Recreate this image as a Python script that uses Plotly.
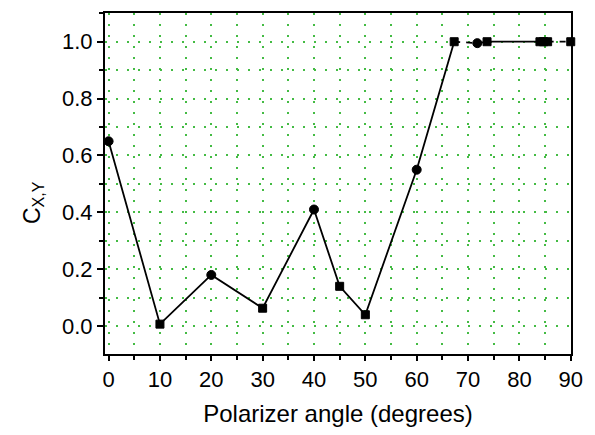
import plotly.graph_objects as go

# Data
angle = [0, 10, 20, 30, 40, 45, 50, 60, 67.3, 71.8, 73.7, 84, 84.7, 85.5, 90]
cxy = [0.65, 0.007, 0.18, 0.063, 0.41, 0.14, 0.04, 0.55, 1.0, 0.995, 1.0, 1.0, 1.0, 1.0, 1.0]
symbols = ["circle", "square", "circle", "square", "circle", "square", "square",
           "circle", "square", "circle", "square", "square", "square", "square", "square"]
# line segments: (start index, end index, dash style)
segments = [(0, 8, "solid"), (8, 10, "6px,6px"), (10, 13, "solid"), (13, 14, "6px,6px")]

x_ticks = list(range(0, 91, 10))
y_ticks = [0.0, 0.2, 0.4, 0.6, 0.8, 1.0]

fig = go.Figure()
for s, e, d in segments:
    fig.add_trace(go.Scatter(
        x=angle[s:e + 1], y=cxy[s:e + 1], mode="lines",
        line=dict(color="black", width=1.8, dash=d), showlegend=False,
        hoverinfo="skip", cliponaxis=False))

sizes = [9 if s == "circle" else 8 for s in symbols]
fig.add_trace(go.Scatter(
    x=angle, y=cxy, mode="markers", opacity=1,
    marker=dict(symbol=symbols, size=sizes, color="#000000", opacity=1,
                line=dict(color="#000000", width=1)),
    showlegend=False, cliponaxis=False))

font = "Liberation Sans, Arial, sans-serif"
grid_col = "#44bb44"
grid_dash = "2px,9px"

fig.update_layout(
    width=595, height=435,
    margin=dict(l=105, r=24, t=13, b=81),
    paper_bgcolor="white", plot_bgcolor="white",
    font=dict(family=font, color="black", size=22),
    xaxis=dict(
        range=[-0.7, 90.05], tickvals=x_ticks, ticktext=[str(v) for v in x_ticks],
        showgrid=False, zeroline=False,
        showline=True, linecolor="black", linewidth=2, mirror=True,
        ticks="outside", ticklen=5, tickwidth=1.5, tickcolor="black",
        tickfont=dict(size=22),
        minor=dict(dtick=5, tick0=0, ticks="outside", ticklen=4, tickwidth=1.5,
                   tickcolor="black", showgrid=True, gridcolor=grid_col,
                   griddash=grid_dash, gridwidth=1.5),
        title=dict(text="Polarizer angle (degrees)", font=dict(size=24), standoff=14),
    ),
    yaxis=dict(
        range=[-0.098, 1.101], tickvals=y_ticks, ticktext=[f"{v:.1f}" for v in y_ticks],
        showgrid=False, zeroline=False,
        showline=True, linecolor="black", linewidth=2, mirror=True,
        ticks="outside", ticklen=6, tickwidth=1.5, tickcolor="black",
        tickfont=dict(size=22),
        minor=dict(dtick=0.1, tick0=0, ticks="outside", ticklen=4, tickwidth=1.5,
                   tickcolor="black", showgrid=True, gridcolor=grid_col,
                   griddash=grid_dash, gridwidth=1.5),
    ),
    annotations=[dict(
        text="C<sub>X,Y</sub>", xref="paper", yref="paper",
        x=-0.155, y=0.445, xanchor="center", yanchor="middle",
        textangle=-90, showarrow=False, font=dict(size=23, family=font))],
)

fig.write_html("out.html")
